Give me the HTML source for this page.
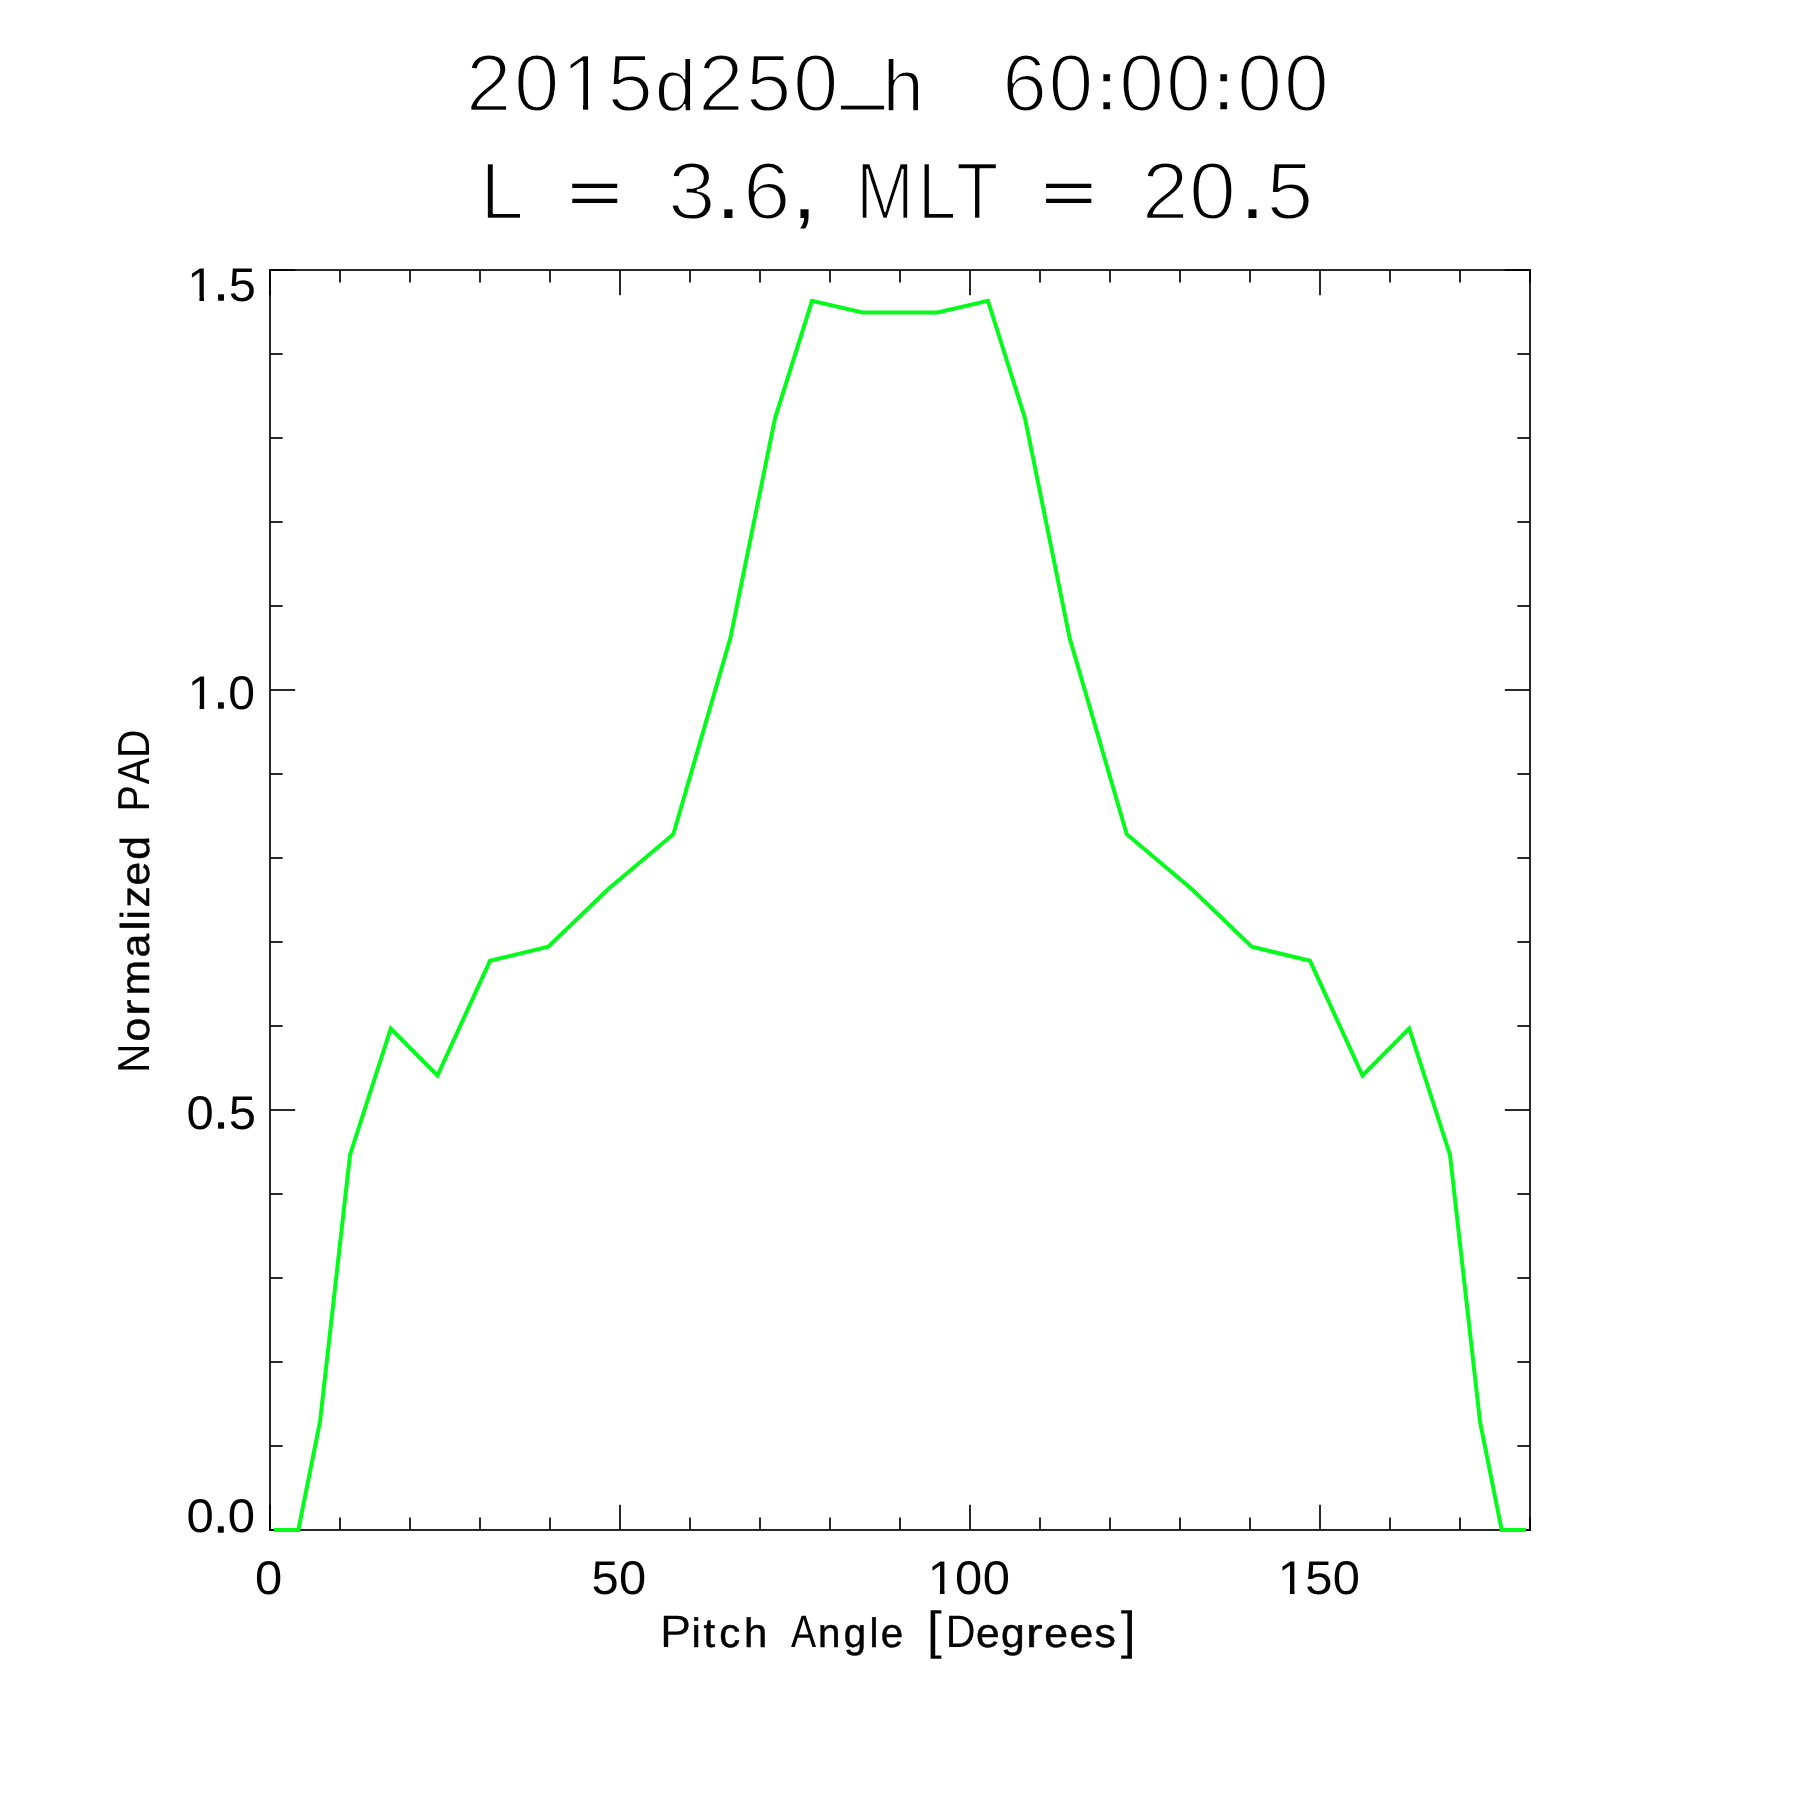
<!DOCTYPE html>
<html lang="en">
<head>
<meta charset="utf-8">
<title>2015d250_h 60:00:00 - Normalized PAD</title>
<style>
html,body{margin:0;padding:0;background:#fff;}
body{width:1800px;height:1800px;overflow:hidden;}
svg{display:block;}
text{white-space:pre;vector-effect:non-scaling-stroke;text-rendering:geometricPrecision;}
</style>
</head>
<body>
<svg width="1800" height="1800" viewBox="0 0 1800 1800" role="img" aria-label="Normalized PAD versus Pitch Angle [Degrees]">
<desc>2015d250_h 60:00:00 / L = 3.6, MLT = 20.5 / Normalized PAD / Pitch Angle [Degrees] / 0 50 100 150 / 0.0 0.5 1.0 1.5</desc>
<rect width="1800" height="1800" fill="#fff"/>
<g fill="none" stroke="#000" stroke-opacity="0.84" stroke-width="2" stroke-linecap="butt">
<path d="M269.0 1530.0H1531.0"/>
<path d="M269.0 270.0H1531.0"/>
<path d="M270.0 270.0V1530.0"/>
<path d="M1530.0 270.0V1530.0"/>
<path d="M270.0 1530.0V1504.8M270.0 270.0V295.2M340.0 1530.0V1517.4M340.0 270.0V282.6M410.0 1530.0V1517.4M410.0 270.0V282.6M480.0 1530.0V1517.4M480.0 270.0V282.6M550.0 1530.0V1517.4M550.0 270.0V282.6M620.0 1530.0V1504.8M620.0 270.0V295.2M690.0 1530.0V1517.4M690.0 270.0V282.6M760.0 1530.0V1517.4M760.0 270.0V282.6M830.0 1530.0V1517.4M830.0 270.0V282.6M900.0 1530.0V1517.4M900.0 270.0V282.6M970.0 1530.0V1504.8M970.0 270.0V295.2M1040.0 1530.0V1517.4M1040.0 270.0V282.6M1110.0 1530.0V1517.4M1110.0 270.0V282.6M1180.0 1530.0V1517.4M1180.0 270.0V282.6M1250.0 1530.0V1517.4M1250.0 270.0V282.6M1320.0 1530.0V1504.8M1320.0 270.0V295.2M1390.0 1530.0V1517.4M1390.0 270.0V282.6M1460.0 1530.0V1517.4M1460.0 270.0V282.6M1530.0 1530.0V1517.4M1530.0 270.0V282.6M270.0 1530.0H295.2M1530.0 1530.0H1504.8M270.0 1446.0H282.6M1530.0 1446.0H1517.4M270.0 1362.0H282.6M1530.0 1362.0H1517.4M270.0 1278.0H282.6M1530.0 1278.0H1517.4M270.0 1194.0H282.6M1530.0 1194.0H1517.4M270.0 1110.0H295.2M1530.0 1110.0H1504.8M270.0 1026.0H282.6M1530.0 1026.0H1517.4M270.0 942.0H282.6M1530.0 942.0H1517.4M270.0 858.0H282.6M1530.0 858.0H1517.4M270.0 774.0H282.6M1530.0 774.0H1517.4M270.0 690.0H295.2M1530.0 690.0H1504.8M270.0 606.0H282.6M1530.0 606.0H1517.4M270.0 522.0H282.6M1530.0 522.0H1517.4M270.0 438.0H282.6M1530.0 438.0H1517.4M270.0 354.0H282.6M1530.0 354.0H1517.4M270.0 270.0H295.2M1530.0 270.0H1504.8"/>
</g>
<polyline points="274.0,1530.0 298.3,1530.0 320.0,1421.7 350.0,1155.0 390.8,1028.5 437.5,1075.5 490.0,960.8 548.3,946.7 608.3,889.0 673.3,834.2 730.3,638.3 775.0,418.3 812.0,300.8 862.5,312.5 937.5,312.5 988.0,300.8 1025.0,418.3 1069.7,638.3 1126.7,834.2 1191.7,889.0 1251.7,946.7 1310.0,960.8 1362.5,1075.5 1409.2,1028.5 1450.0,1155.0 1480.0,1421.7 1501.7,1530.0 1526.0,1530.0" fill="none" stroke="#04fb1c" stroke-width="4" stroke-linejoin="miter" stroke-miterlimit="6" stroke-linecap="butt"/>
<g font-family='"Liberation Sans", sans-serif' fill="#000" stroke-linejoin="round" opacity="0.99">
<text transform="scale(1.0054 1)" x="463.53 511.17 558.42 604.24 651.40 694.62 742.09 788.86 837.13 877.93" y="111.20 111.20 111.20 111.20 111.20 111.20 111.20 111.20 95.20 111.20" font-size="81.20" stroke="#fff" stroke-width="2.40">2015<tspan font-size="73.08" stroke="#fff" stroke-width="1.70">d</tspan>250<tspan font-size="75.00" stroke="#fff" stroke-width="0.80">_</tspan><tspan font-size="73.08" stroke="#fff" stroke-width="1.70">h</tspan></text>
<text transform="scale(0.9915 1)" x="1010.83 1057.46 1107.09 1128.86 1176.01 1225.25 1247.77 1294.93" y="111.20 111.20 109.10 111.20 111.20 109.10 111.20 111.20" font-size="81.20" stroke="#fff" stroke-width="2.40">60<tspan font-size="65.50" stroke="#000" stroke-width="0.50">:</tspan>00<tspan font-size="65.50" stroke="#000" stroke-width="0.50">:</tspan>00</text>
<text transform="scale(0.9640 1)" x="498.16" y="219.00" font-size="81.20" stroke="#fff" stroke-width="2.40">L</text>
<text transform="scale(1.5541 1)" x="365.28" y="212.80" font-size="59.60">=</text>
<text transform="scale(1.0539 1)" x="633.91 679.98 704.94 751.91" y="219.00 217.80 219.00 217.80" font-size="81.20" stroke="#fff" stroke-width="2.40">3<tspan stroke="none">.</tspan>6<tspan stroke="none">,</tspan></text>
<text transform="scale(0.8569 1)" x="998.83 1071.11 1115.70" y="219.00" font-size="81.20" stroke="#fff" stroke-width="2.40">MLT</text>
<text transform="scale(1.5644 1)" x="665.70" y="212.80" font-size="59.60">=</text>
<text transform="scale(1.0382 1)" x="1099.82 1145.19 1195.02 1220.01" y="219.00 219.00 217.80 219.00" font-size="81.20" stroke="#fff" stroke-width="2.40">20<tspan stroke="none">.</tspan>5</text>
<text transform="scale(1.0371 1)" x="245.96" y="1593.60" font-size="47.20">0</text>
<text transform="scale(1.0347 1)" x="571.69 598.27" y="1593.60" font-size="47.20">50</text>
<text transform="scale(1.0371 1)" x="894.57 920.82 947.63" y="1593.60" font-size="47.20">100</text>
<text transform="scale(1.0347 1)" x="1234.97 1261.47 1288.15" y="1593.60" font-size="47.20">150</text>
<text transform="scale(1.0322 1)" x="181.49 207.49 221.60" y="300.70 300.40 300.70" font-size="47.20">1<tspan stroke="#000" stroke-width="1.30">.</tspan>5</text>
<text transform="scale(1.0194 1)" x="184.08 210.12 224.03" y="708.50 708.20 708.50" font-size="47.20">1<tspan stroke="#000" stroke-width="1.30">.</tspan>0</text>
<text transform="scale(1.0369 1)" x="179.90 206.58 220.55" y="1128.50 1128.20 1128.50" font-size="47.20">0<tspan stroke="#000" stroke-width="1.30">.</tspan>5</text>
<text transform="scale(1.0393 1)" x="179.45 206.03 219.24" y="1532.10 1531.80 1532.10" font-size="47.20">0<tspan stroke="#000" stroke-width="1.30">.</tspan>0</text>
<text transform="scale(1.0216 1)" x="646.15 676.86 688.71 704.00 728.39" y="1646.70" font-size="45.60">P<tspan font-size="41.04" stroke="#000" stroke-width="0.50">itch</tspan></text>
<text transform="scale(0.9818 1)" x="805.62 833.11 859.42 885.56 896.99" y="1646.70" font-size="45.60"><tspan textLength="25.61" lengthAdjust="spacingAndGlyphs">A</tspan><tspan font-size="41.04" stroke="#000" stroke-width="0.50">ngle</tspan></text>
<text transform="scale(1.0388 1)" x="892.17 910.34 939.57 963.58 987.68 1005.28 1029.63 1053.73 1078.83" y="1648.00 1646.70 1646.70 1646.70 1646.70 1646.70 1646.70 1646.70 1648.00" font-size="45.60"><tspan font-size="52.20">[</tspan><tspan textLength="28.64" lengthAdjust="spacingAndGlyphs">D</tspan><tspan font-size="41.04" stroke="#000" stroke-width="0.50">eg</tspan><tspan font-size="41.04" stroke="#000" stroke-width="0.50" textLength="15.90" lengthAdjust="spacingAndGlyphs">r</tspan><tspan font-size="41.04" stroke="#000" stroke-width="0.50">ees</tspan><tspan font-size="52.20">]</tspan></text>
<text transform="translate(149.20 0) rotate(-90) scale(1.0576 1)" x="-1014.29 -984.75 -960.38 -941.40 -905.37 -879.64 -869.45 -858.05 -837.20 -812.86" y="0.00" font-size="44.80"><tspan textLength="27.50" lengthAdjust="spacingAndGlyphs">N</tspan><tspan font-size="40.32" stroke="#000" stroke-width="0.50">o</tspan><tspan font-size="40.32" stroke="#000" stroke-width="0.50" textLength="15.37" lengthAdjust="spacingAndGlyphs">r</tspan><tspan font-size="40.32" stroke="#000" stroke-width="0.50">malized</tspan></text>
<text transform="translate(149.20 0) rotate(-90) scale(0.8778 1)" x="-924.55 -893.31 -863.58" y="0.00" font-size="44.80">PAD</text>
</g>
<path fill="#fff" d="M566.67 104.33H583.03V112.20H566.67zM588.15 104.33H603.87V112.20H588.15zM930.49 1589.27H939.92V1594.60H930.49zM944.55 1589.27H953.60V1594.60H944.55zM1280.52 1589.27H1289.93V1594.60H1280.52zM1294.55 1589.27H1303.58V1594.60H1294.55zM190.05 296.37H199.44V301.70H190.05zM204.05 296.37H213.06V301.70H204.05zM190.31 704.17H199.60V709.50H190.31zM204.15 704.17H213.06V709.50H204.15z"/>
</svg>
</body>
</html>
